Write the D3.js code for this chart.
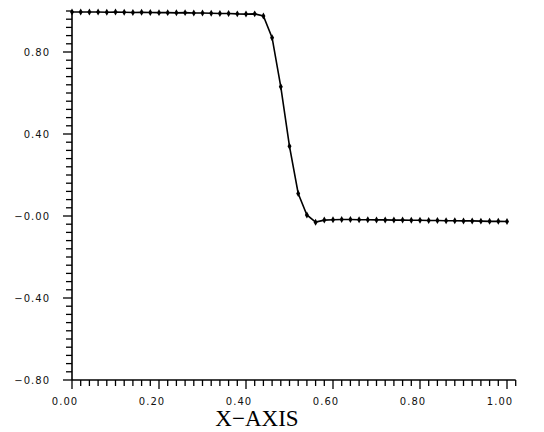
<!DOCTYPE html>
<html>
<head>
<meta charset="utf-8">
<script src="https://cdn.jsdelivr.net/npm/d3@7"></script>
<style>
  body { margin: 0; background: #fff; }
  .tick-label { font-family: "DejaVu Sans", sans-serif; font-size: 10px; letter-spacing: 1px; fill: #111; }
</style>
</head>
<body>
<div id="chart"></div>
<script>
(function() {
  var width = 544,
     height = 432;

  // data
  var xValues = [0.00, 0.02, 0.04, 0.06, 0.08, 0.10, 0.12, 0.14, 0.16, 0.18,
                 0.20, 0.22, 0.24, 0.26, 0.28, 0.30, 0.32, 0.34, 0.36, 0.38,
                 0.40, 0.42, 0.44, 0.46, 0.48, 0.50, 0.52, 0.54, 0.56, 0.58,
                 0.60, 0.62, 0.64, 0.66, 0.68, 0.70, 0.72, 0.74, 0.76, 0.78,
                 0.80, 0.82, 0.84, 0.86, 0.88, 0.90, 0.92, 0.94, 0.96, 0.98, 1.00];
  var yValues = [0.995, 0.995, 0.995, 0.995, 0.994, 0.995, 0.994, 0.993, 0.994, 0.993,
                 0.992, 0.992, 0.991, 0.992, 0.990, 0.990, 0.989, 0.988, 0.988, 0.986,
                 0.985, 0.986, 0.976, 0.870, 0.630, 0.340, 0.110, 0.005, -0.030, -0.020,
                 -0.018, -0.017, -0.017, -0.018, -0.018, -0.019, -0.019, -0.020, -0.020, -0.021,
                 -0.021, -0.022, -0.022, -0.023, -0.023, -0.024, -0.024, -0.025, -0.026, -0.026, -0.027];

  var xTickLabels = ["0.00", "0.20", "0.40", "0.60", "0.80", "1.00"];
  var xMajor = [0, 0.2, 0.4, 0.6, 0.8, 1.0];
  var yTickLabels = ["\u22120.80", "\u22120.40", "\u22120.00", "0.40", "0.80"];
  var yMajor = [-0.8, -0.4, 0, 0.4, 0.8];

  var data = xValues.map(function(x, i) { return {x: x, y: yValues[i]}; });

  var svg = d3.select("#chart")
  .append("svg")
  .attr("width", width)
  .attr("height", height);

  var x = d3.scaleLinear().domain([0, 1]).range([72, 507]);
  var y = d3.scaleLinear().domain([-0.8, 1.0]).range([380, 11]);

  // minor ticks every 0.02 on x, 0.04 on y
  var xMinor = d3.range(0, 51).map(function(i) { return i * 0.02; }).concat([1.02]);
  var yMinor = d3.range(0, 46).map(function(i) { return -0.8 + i * 0.04; });

  function isMajor(v, list) {
    return list.some(function(m) { return Math.abs(m - v) < 1e-6; });
  }

  // x axis
  svg.append("line")
  .attr("x1", x(0)).attr("x2", x(1.02))
  .attr("y1", y(-0.8)).attr("y2", y(-0.8))
  .attr("stroke", "#000").attr("stroke-width", 1.6);

  svg.selectAll(".xtick")
  .data(xMinor)
  .enter()
  .append("line")
  .attr("class", "xtick")
  .attr("x1", function(d) { return x(d); })
  .attr("x2", function(d) { return x(d); })
  .attr("y1", y(-0.8))
  .attr("y2", function(d) { return y(-0.8) + (isMajor(d, xMajor) ? 9 : 6); })
  .attr("stroke", "#000").attr("stroke-width", 1.3);

  svg.selectAll(".xlab")
  .data(xMajor)
  .enter()
  .append("text")
  .attr("class", "tick-label")
  .attr("x", function(d) { return x(d) - 7; })
  .attr("y", 405)
  .attr("text-anchor", "middle")
  .text(function(d, i) { return xTickLabels[i]; });

  // y axis
  svg.append("line")
  .attr("x1", x(0)).attr("x2", x(0))
  .attr("y1", y(-0.8)).attr("y2", y(1.0))
  .attr("stroke", "#000").attr("stroke-width", 1.6);

  svg.selectAll(".ytick")
  .data(yMinor)
  .enter()
  .append("line")
  .attr("class", "ytick")
  .attr("y1", function(d) { return y(d); })
  .attr("y2", function(d) { return y(d); })
  .attr("x1", x(0))
  .attr("x2", function(d) { return x(0) - (isMajor(d, yMajor) ? 9 : 6); })
  .attr("stroke", "#000").attr("stroke-width", 1.3);

  svg.selectAll(".ylab")
  .data(yMajor)
  .enter()
  .append("text")
  .attr("class", "tick-label")
  .attr("x", 50)
  .attr("y", function(d) { return y(d) + 4; })
  .attr("text-anchor", "end")
  .text(function(d, i) { return yTickLabels[i]; });

  // axis title
  svg.append("text")
  .attr("x", 257)
  .attr("y", 426)
  .attr("text-anchor", "middle")
  .attr("font-family", "Liberation Serif, serif")
  .attr("font-size", 23)
  .attr("fill", "#000")
  .text("X\u2212AXIS");

  // the curve
  var line = d3.line()
  .x(function(d) { return x(d.x); })
  .y(function(d) { return y(d.y); });

  svg.append("path")
  .datum(data)
  .attr("d", line)
  .attr("fill", "none")
  .attr("stroke", "#000")
  .attr("stroke-width", 1.6);

  svg.selectAll(".pt")
  .data(data)
  .enter()
  .append("path")
  .attr("class", "pt")
  .attr("d", d3.symbol().type(d3.symbolDiamond).size(14))
  .attr("transform", function(d) { return "translate(" + x(d.x) + "," + y(d.y) + ")"; })
  .attr("fill", "#000");

})();
</script>
</body>
</html>
